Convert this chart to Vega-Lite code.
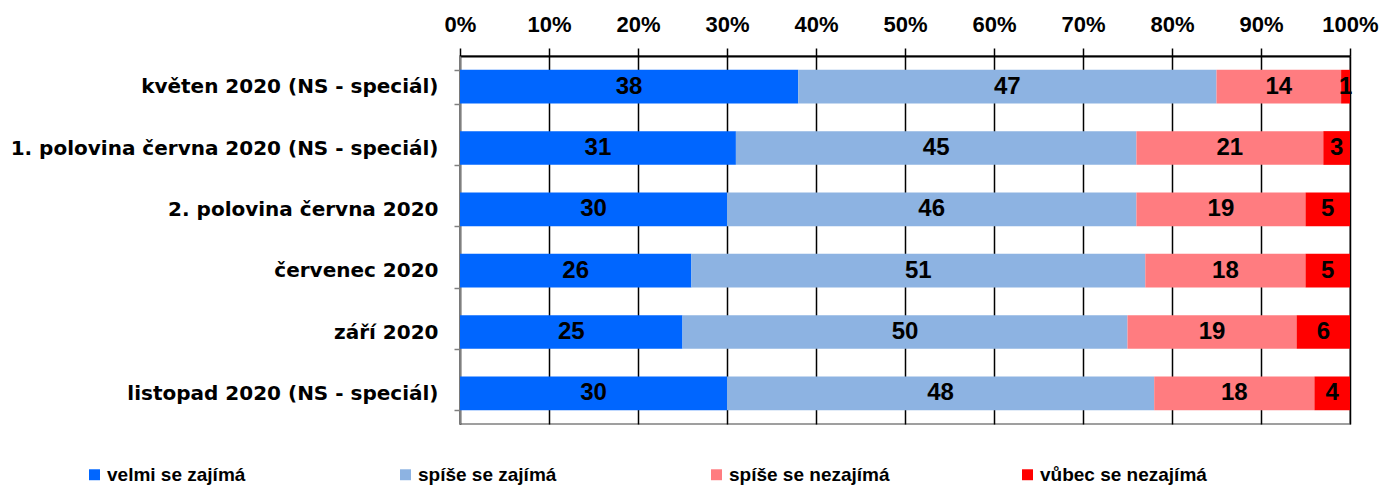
{
  "$schema": "https://vega.github.io/schema/vega-lite/v6.json",
  "width": 890,
  "height": 368,
  "autosize": {"type": "none"},
  "padding": {"left": 460, "top": 56, "right": 36, "bottom": 65},
  "background": "white",
  "config": {
    "view": {"stroke": "#808080", "strokeWidth": 1.5},
    "font": "Liberation Sans"
  },
  "data": {
    "values": [
      {"period": "květen 2020 (NS - speciál)", "cat": "velmi se zajímá", "k": 1, "value": 38},
      {"period": "květen 2020 (NS - speciál)", "cat": "spíše se zajímá", "k": 2, "value": 47},
      {"period": "květen 2020 (NS - speciál)", "cat": "spíše se nezajímá", "k": 3, "value": 14},
      {"period": "květen 2020 (NS - speciál)", "cat": "vůbec se nezajímá", "k": 4, "value": 1},
      {"period": "1. polovina června 2020 (NS - speciál)", "cat": "velmi se zajímá", "k": 1, "value": 31},
      {"period": "1. polovina června 2020 (NS - speciál)", "cat": "spíše se zajímá", "k": 2, "value": 45},
      {"period": "1. polovina června 2020 (NS - speciál)", "cat": "spíše se nezajímá", "k": 3, "value": 21},
      {"period": "1. polovina června 2020 (NS - speciál)", "cat": "vůbec se nezajímá", "k": 4, "value": 3},
      {"period": "2. polovina června 2020", "cat": "velmi se zajímá", "k": 1, "value": 30},
      {"period": "2. polovina června 2020", "cat": "spíše se zajímá", "k": 2, "value": 46},
      {"period": "2. polovina června 2020", "cat": "spíše se nezajímá", "k": 3, "value": 19},
      {"period": "2. polovina června 2020", "cat": "vůbec se nezajímá", "k": 4, "value": 5},
      {"period": "červenec 2020", "cat": "velmi se zajímá", "k": 1, "value": 26},
      {"period": "červenec 2020", "cat": "spíše se zajímá", "k": 2, "value": 51},
      {"period": "červenec 2020", "cat": "spíše se nezajímá", "k": 3, "value": 18},
      {"period": "červenec 2020", "cat": "vůbec se nezajímá", "k": 4, "value": 5},
      {"period": "září 2020", "cat": "velmi se zajímá", "k": 1, "value": 25},
      {"period": "září 2020", "cat": "spíše se zajímá", "k": 2, "value": 50},
      {"period": "září 2020", "cat": "spíše se nezajímá", "k": 3, "value": 19},
      {"period": "září 2020", "cat": "vůbec se nezajímá", "k": 4, "value": 6},
      {"period": "listopad 2020 (NS - speciál)", "cat": "velmi se zajímá", "k": 1, "value": 30},
      {"period": "listopad 2020 (NS - speciál)", "cat": "spíše se zajímá", "k": 2, "value": 48},
      {"period": "listopad 2020 (NS - speciál)", "cat": "spíše se nezajímá", "k": 3, "value": 18},
      {"period": "listopad 2020 (NS - speciál)", "cat": "vůbec se nezajímá", "k": 4, "value": 4}
    ]
  },
  "encoding": {
    "y": {
      "field": "period",
      "type": "nominal",
      "sort": null,
      "scale": {"paddingInner": 0.45, "paddingOuter": 0.225},
      "axis": {
        "title": null,
        "domain": true,
        "domainColor": "#808080",
        "domainWidth": 1.5,
        "ticks": true,
        "tickColor": "#808080",
        "tickWidth": 1.5,
        "tickSize": 6,
        "tickBand": "extent",
        "grid": false,
        "labelFont": "DejaVu Sans",
        "labelFontSize": 20,
        "labelFontWeight": "bold",
        "labelColor": "black",
        "labelPadding": 16,
        "labelLimit": 600
      }
    }
  },
  "layer": [
    {
      "mark": {"type": "bar"},
      "encoding": {
        "x": {
          "field": "value",
          "type": "quantitative",
          "stack": "zero",
          "scale": {"domain": [0, 100], "nice": false},
          "axis": {
            "orient": "top",
            "title": null,
            "values": [0, 10, 20, 30, 40, 50, 60, 70, 80, 90, 100],
            "labelExpr": "datum.value + '%'",
            "grid": true,
            "gridColor": "black",
            "gridWidth": 1.5,
            "gridOpacity": 1,
            "domain": true,
            "domainColor": "black",
            "domainWidth": 2,
            "ticks": true,
            "tickColor": "black",
            "tickWidth": 1.5,
            "tickSize": 8,
            "labelFont": "Liberation Sans",
            "labelFontSize": 22,
            "labelFontWeight": "bold",
            "labelColor": "black",
            "labelPadding": 12,
            "labelFlush": false,
            "labelOverlap": false
          }
        },
        "order": {"field": "k", "type": "quantitative", "sort": "ascending"},
        "color": {
          "field": "cat",
          "type": "nominal",
          "sort": ["velmi se zajímá", "spíše se zajímá", "spíše se nezajímá", "vůbec se nezajímá"],
          "scale": {
            "domain": ["velmi se zajímá", "spíše se zajímá", "spíše se nezajímá", "vůbec se nezajímá"],
            "range": ["#0066FF", "#8DB3E2", "#FF7C80", "#FF0000"]
          },
          "legend": {
            "title": null,
            "orient": "none",
            "legendX": -375,
            "legendY": 409,
            "direction": "horizontal",
            "columns": 4,
            "gridAlign": "all",
            "columnPadding": 122,
            "padding": 0,
            "symbolType": "square",
            "symbolSize": 120,
            "symbolStrokeWidth": 0,
            "symbolOpacity": 1,
            "labelFont": "Liberation Sans",
            "labelFontSize": 19,
            "labelFontWeight": "bold",
            "labelColor": "black",
            "labelOffset": 3,
            "labelLimit": 400
          }
        }
      }
    },
    {
      "mark": {"type": "text", "font": "Liberation Sans", "fontSize": 24, "fontWeight": "bold", "baseline": "middle", "align": "center", "fill": "black"},
      "encoding": {
        "x": {"field": "value", "type": "quantitative", "stack": "zero", "bandPosition": 0.5},
        "order": {"field": "k", "type": "quantitative", "sort": "ascending"},
        "detail": {"field": "cat", "type": "nominal"},
        "text": {"field": "value", "type": "quantitative"}
      }
    }
  ]
}
